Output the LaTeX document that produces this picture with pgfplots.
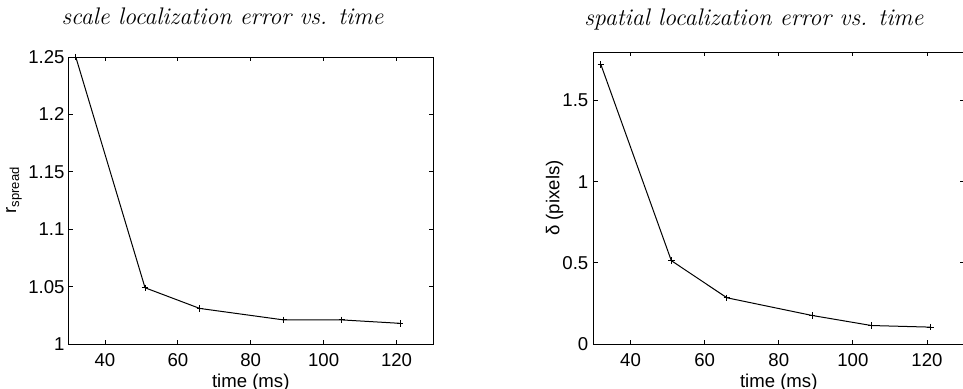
\documentclass[border=0pt]{standalone}
\usepackage{fontspec}
\setsansfont{Liberation Sans}
\usepackage{pgfplots}
\pgfplotsset{compat=1.18}
\pgfplotsset{
  mystyle/.style={
    scale only axis,
    axis line style={line width=0.5pt},
    tick align=inside,
    major tick length=2pt,
    tick style={line width=0.4pt,black},
    /pgf/number format/assume math mode=true,
    tick label style={font=\sffamily\fontsize{9.3}{11}\selectfont},
    label style={font=\sffamily\fontsize{9.3}{11}\selectfont},
    xticklabel style={anchor=base, yshift=-11pt},
    xmin=30, xmax=130,
    xtick={40,60,80,100,120},
    xlabel={time (ms)},
    xlabel style={at={(axis description cs:0.5,0)}, anchor=base, yshift=-21.5pt},
    every axis title/.style={font=\itshape\fontsize{12}{14}\selectfont, anchor=base},
  }
}
\begin{document}
\begin{tikzpicture}[x=1pt,y=1pt]
\path[use as bounding box, clip] (0,0) rectangle (481.5,194);
\begin{axis}[mystyle,
  at={(34.25pt,22pt)}, anchor=south west,
  width=182.25pt, height=143.5pt,
  ymin=1, ymax=1.25,
  ytick={1,1.05,1.1,1.15,1.2,1.25},
  yticklabel style={anchor=east, inner sep=0pt, xshift=-1.8pt},
  ylabel={r\textsubscript{spread}},
  ylabel style={at={(axis description cs:-0.144,0.537)}, anchor=base},
  title={scale localization error vs. time},
  title style={at={(axis description cs:0.4225,1)}, yshift=16.5pt},
]
\addplot[black, line width=0.5pt, mark=+, mark size=1.6pt] coordinates {
  (32,1.25) (51,1.049) (66,1.031) (89,1.021) (105,1.021) (121,1.018)
};
\end{axis}
\begin{axis}[mystyle,
  at={(296.75pt,22pt)}, anchor=south west,
  width=185.25pt, height=146pt,
  ymin=0, ymax=1.8,
  ytick={0,0.5,1,1.5},
  yticklabel style={anchor=east, inner sep=0pt, xshift=-2.4pt},
  ylabel={δ (pixels)},
  ylabel style={at={(axis description cs:-0.0918,0.5)}, anchor=base},
  title={spatial localization error vs. time},
  title style={at={(axis description cs:0.433,1)}, yshift=13.5pt},
]
\addplot[black, line width=0.5pt, mark=+, mark size=1.6pt] coordinates {
  (32,1.722) (51,0.514) (66,0.285) (89,0.176) (105,0.114) (121,0.104)
};
\end{axis}
\end{tikzpicture}
\end{document}
